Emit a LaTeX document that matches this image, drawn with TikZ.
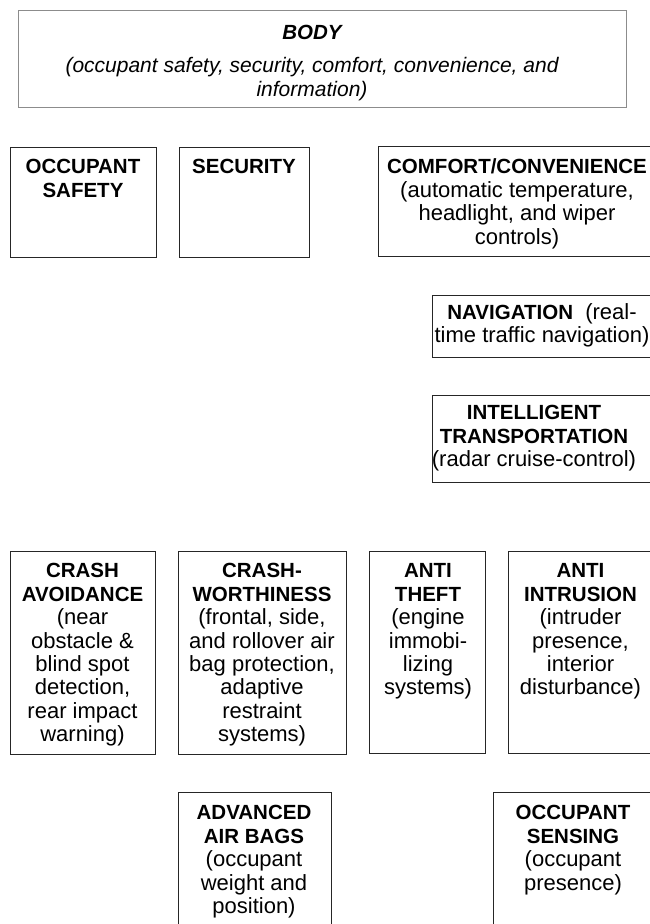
\documentclass[tikz,border=0pt]{standalone}
\usepackage{fontspec}
\setmainfont{Liberation Sans}
\newcommand\hd[1]{{\fontsize{20.5}{23.4}\selectfont\bfseries #1}}
\tikzset{
  frame/.style={draw=black!85, line width=0.9pt, inner sep=0pt, outer sep=0pt, anchor=north west, rectangle},
  bodyframe/.style={frame, draw=black!45, line width=0.8pt},
  txt/.style={align=center, inner sep=0pt, outer sep=0pt, anchor=north, font=\fontsize{22}{23.4}\selectfont},
  bodytxt/.style={txt, font=\fontsize{21}{23.4}\selectfont\itshape}
}
\begin{document}
\begin{tikzpicture}[x=1pt,y=-1pt]
\path[use as bounding box, clip] (0,0) rectangle (650,924);
\fill[white] (0,0) rectangle (650,924);
% top
\node[bodyframe, minimum width=608pt, minimum height=97pt] (body) at (18,10) {};
\node[bodytxt] (bodyT) at (312,23.6) {\strut{\hd{\itshape BODY}}\\[9.6pt]\itshape (occupant safety, security, comfort, convenience, and\\\itshape information)};
% row 2
\node[frame, minimum width=146pt, minimum height=110pt] (safety) at (10,147) {};
\node[txt] (safetyT) at (83,157.6) {\strut\hd{OCCUPANT}\\\hd{SAFETY}};
\node[frame, minimum width=130pt, minimum height=110pt] (security) at (179,147) {};
\node[txt] (securityT) at (244,157.6) {\strut\hd{SECURITY}};
\node[frame, minimum width=274pt, minimum height=110pt] (comfort) at (378,146) {};
\node[txt] (comfortT) at (517,157.6) {\strut\hd{COMFORT/CONVENIENCE}\\(automatic temperature,\\headlight, and wiper\\controls)};
% right column
\node[frame, minimum width=220pt, minimum height=62pt] (nav) at (432,295) {};
\node[txt] (navT) at (542,303.1) {\strut\hd{NAVIGATION}\ \ (real-\\time traffic navigation)};
\node[frame, minimum width=220pt, minimum height=87pt] (its) at (432,395) {};
\node[txt] (itsT) at (534,403.6) {\strut\hd{INTELLIGENT}\\\hd{TRANSPORTATION}\\(radar cruise-control)};
% row 4
\node[frame, minimum width=145pt, minimum height=203pt] (avoid) at (10,551) {};
\node[txt] (avoidT) at (82.5,561.6) {\strut\hd{CRASH}\\\hd{AVOIDANCE}\\(near\\obstacle \&\\blind spot\\detection,\\rear impact\\warning)};
\node[frame, minimum width=168pt, minimum height=203pt] (worth) at (178,551) {};
\node[txt] (worthT) at (262,561.6) {\strut\hd{CRASH-}\\\hd{WORTHINESS}\\(frontal, side,\\and rollover air\\bag protection,\\adaptive\\restraint\\systems)};
\node[frame, minimum width=116pt, minimum height=202pt] (theft) at (369,551) {};
\node[txt] (theftT) at (428,561.6) {\strut\hd{ANTI}\\\hd{THEFT}\\(engine\\immobi-\\lizing\\systems)};
\node[frame, minimum width=144pt, minimum height=202pt] (intr) at (508,551) {};
\node[txt] (intrT) at (580.5,561.6) {\strut\hd{ANTI}\\\hd{INTRUSION}\\(intruder\\presence,\\interior\\disturbance)};
% row 5
\node[frame, minimum width=153pt, minimum height=150pt] (airbag) at (178,792) {};
\node[txt] (airbagT) at (254,803.6) {\strut\hd{ADVANCED}\\\hd{AIR BAGS}\\(occupant\\weight and\\position)};
\node[frame, minimum width=159pt, minimum height=150pt] (sensing) at (493,792) {};
\node[txt] (sensingT) at (573,803.6) {\strut\hd{OCCUPANT}\\\hd{SENSING}\\(occupant\\presence)};
\end{tikzpicture}
\end{document}
